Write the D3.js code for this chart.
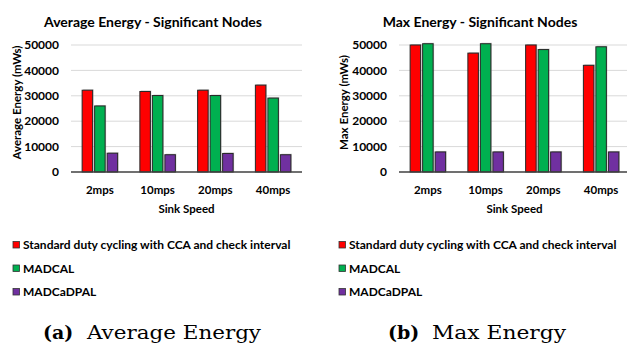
<!DOCTYPE html>
<html>
<head>
<meta charset="utf-8">
<script src="https://cdn.jsdelivr.net/npm/d3@7"></script>
<style>
  body { margin: 0; background: #fff; }
  svg { display: block; font-family: Lato, "Open Sans", sans-serif; }
</style>
</head>
<body>
<svg id="fig" width="627" height="347"></svg>
<script>
// data
const speeds = ['2mps', '10mps', '20mps', '40mps'];
const seriesNames = ['Standard duty cycling with CCA and check interval', 'MADCAL', 'MADCaDPAL'];
const seriesColors = ['#ff0000', '#00b050', '#7030a0'];
const yTicks = [0, 10000, 20000, 30000, 40000, 50000];

const avgStandard = [32200, 31700, 32200, 34200];
const avgMadcal = [26000, 30100, 30100, 29100];
const avgMadcadpal = [7400, 6800, 7300, 6800];

const maxStandard = [50000, 46800, 50000, 42000];
const maxMadcal = [50500, 50500, 48200, 49300];
const maxMadcadpal = [7900, 7900, 7900, 7900];

const svg = d3.select('#fig');

const panels = [
  {
    title: 'Average Energy - Significant Nodes', titleX: 153,
    yLabel: 'Average Energy  (mWs)', yLabelX: 17,
    left: 71, values: [avgStandard, avgMadcal, avgMadcadpal],
    legendX: 13,
    capTag: '(a)', capText: 'Average Energy', capX: 43, capTextX: 87, capTextW: 174
  },
  {
    title: 'Max Energy - Significant Nodes', titleX: 480,
    yLabel: 'Max Energy  (mWs)', yLabelX: 344,
    left: 399, values: [maxStandard, maxMadcal, maxMadcadpal],
    legendX: 339,
    capTag: '(b)', capText: 'Max Energy', capX: 388, capTextX: 432, capTextW: 134
  }
];

const plotW = 231, plotTop = 45, plotBottom = 172;

panels.forEach(p => {
  const g = svg.append('g');

  const x = d3.scaleBand().domain(speeds).range([p.left, p.left + plotW]);
  const x1 = d3.scaleBand().domain(d3.range(seriesNames.length))
    .range([0, x.bandwidth()]).paddingInner(0.16).paddingOuter(0.89);
  const y = d3.scaleLinear().domain([0, 50000]).range([plotBottom, plotTop]);

  // gridlines
  g.selectAll('.grid').data(yTicks.slice(1)).enter().append('line')
    .attr('x1', p.left).attr('x2', p.left + plotW)
    .attr('y1', d => y(d)).attr('y2', d => y(d))
    .attr('stroke', '#d9d9d9').attr('stroke-width', 1);

  // y tick labels
  g.selectAll('.ytick').data(yTicks).enter().append('text')
    .attr('x', p.left - 12).attr('y', d => y(d)).attr('dy', '0.35em')
    .attr('text-anchor', 'end').attr('font-size', 12).attr('font-weight', 700)
    .attr('fill', '#000').text(d => d);

  // bars, with a faint shadow like the original
  p.values.forEach((vals, si) => {
    g.selectAll('.shadow' + si).data(vals).enter().append('rect')
      .attr('x', (d, i) => x(speeds[i]) + x1(si) + 1)
      .attr('width', x1.bandwidth())
      .attr('y', d => y(d) - 1)
      .attr('height', d => plotBottom - y(d) + 1)
      .attr('fill', '#999').attr('opacity', 0.5);
    g.selectAll('.bar' + si).data(vals).enter().append('rect')
      .attr('x', (d, i) => x(speeds[i]) + x1(si))
      .attr('width', x1.bandwidth())
      .attr('y', d => y(d))
      .attr('height', d => plotBottom - y(d))
      .attr('fill', seriesColors[si])
      .attr('stroke', '#262626').attr('stroke-width', 1);
  });

  // x axis line
  g.append('line')
    .attr('x1', p.left).attr('x2', p.left + plotW)
    .attr('y1', plotBottom).attr('y2', plotBottom)
    .attr('stroke', '#404040').attr('stroke-width', 1.3);

  // x labels
  g.selectAll('.xtick').data(speeds).enter().append('text')
    .attr('x', d => x(d) + x.bandwidth() / 2).attr('y', 194)
    .attr('text-anchor', 'middle').attr('font-size', 11.5).attr('font-weight', 700)
    .text(d => d);

  g.append('text')
    .attr('x', p.left + plotW / 2).attr('y', 213)
    .attr('text-anchor', 'middle').attr('font-size', 11.5).attr('font-weight', 700)
    .text('Sink Speed');

  g.append('text')
    .attr('x', p.titleX).attr('y', 27)
    .attr('text-anchor', 'middle').attr('font-size', 14).attr('font-weight', 700)
    .text(p.title);

  g.append('text')
    .attr('transform', `translate(${p.yLabelX + 4},${(plotTop + plotBottom) / 2 - 6}) rotate(-90)`)
    .attr('text-anchor', 'middle').attr('font-size', 11.5).attr('font-weight', 700)
    .text(p.yLabel);

  // legend
  const leg = g.selectAll('.leg').data(seriesNames).enter().append('g')
    .attr('transform', (d, i) => `translate(${p.legendX},${245 + i * 23.5})`);
  leg.append('rect')
    .attr('x', 0).attr('y', -3.5).attr('width', 6.5).attr('height', 6.5)
    .attr('fill', (d, i) => seriesColors[i]).attr('stroke', '#333').attr('stroke-width', 0.8);
  leg.append('text')
    .attr('x', 10).attr('dy', '0.36em')
    .attr('font-size', 12).attr('font-weight', 700)
    .text(d => d);

  // caption under each panel
  const serif = '"DejaVu Serif", "Liberation Serif", serif';
  g.append('text')
    .attr('x', p.capX).attr('y', 339)
    .attr('font-family', serif).attr('font-size', 19).attr('font-weight', 700)
    .text(p.capTag);
  g.append('text')
    .attr('x', p.capTextX).attr('y', 339)
    .attr('font-family', serif).attr('font-size', 19)
    .attr('textLength', p.capTextW).attr('lengthAdjust', 'spacingAndGlyphs')
    .text(p.capText);
});
</script>
</body>
</html>
